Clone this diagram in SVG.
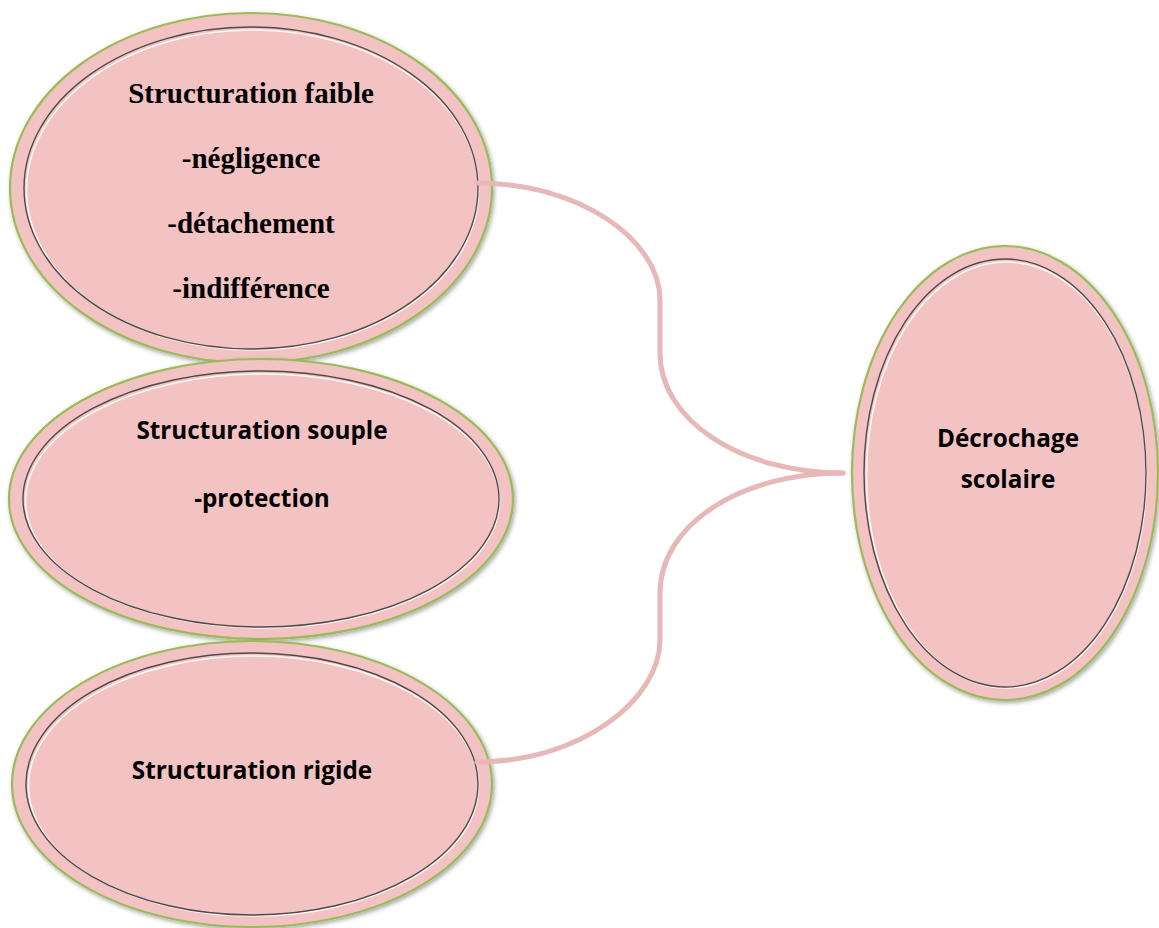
<svg xmlns="http://www.w3.org/2000/svg" width="1159" height="928" viewBox="0 0 1159 928">
  <defs>
    <filter id="sh" x="-10%" y="-10%" width="120%" height="120%">
      <feDropShadow dx="1.5" dy="2" stdDeviation="2" flood-color="#000" flood-opacity="0.35"/>
    </filter>
  </defs>
  <style>
    .outer { fill: #f3c3c3; stroke: #9bbb59; stroke-width: 2.2; filter: url(#sh); }
    .inner { fill: none; stroke: #4f4a4a; stroke-width: 1.4; }
    .hl { fill: none; stroke: #ffffff; stroke-width: 1.6; stroke-opacity: 0.85; }
    .serif { font-family: "Liberation Serif", "Times New Roman", serif; font-weight: bold; font-size: 29px; fill: #000; text-anchor: middle; }
    .sans { font-family: "Open Sans", "Liberation Sans", sans-serif; font-weight: bold; font-size: 24.3px; fill: #000; text-anchor: middle; }
    .conn { fill: none; stroke: #e6b8b7; stroke-width: 5; stroke-linecap: round; }
  </style>
  <rect width="1159" height="928" fill="#ffffff"/>

  <g id="node-faible">
    <ellipse class="outer" cx="251" cy="188" rx="241" ry="175"/>
    <ellipse class="hl" cx="252.5" cy="190" rx="226" ry="160"/>
    <ellipse class="inner" cx="251" cy="188" rx="227" ry="161"/>
    <text class="serif" x="251" y="103">Structuration faible</text>
    <text class="serif" x="251" y="168">-négligence</text>
    <text class="serif" x="251" y="233">-détachement</text>
    <text class="serif" x="251" y="298">-indifférence</text>
  </g>

  <g id="node-souple">
    <ellipse class="outer" cx="261" cy="499" rx="252" ry="140"/>
    <ellipse class="hl" cx="262.5" cy="501" rx="237" ry="127"/>
    <ellipse class="inner" cx="261" cy="499" rx="238" ry="128"/>
    <text class="sans" x="262" y="439">Structuration souple</text>
    <text class="sans" x="262" y="507">-protection</text>
  </g>

  <g id="node-rigide">
    <ellipse class="outer" cx="252" cy="784" rx="240" ry="143"/>
    <ellipse class="hl" cx="253.5" cy="786" rx="225" ry="130"/>
    <ellipse class="inner" cx="252" cy="784" rx="226" ry="131"/>
    <text class="sans" x="252" y="779">Structuration rigide</text>
  </g>

  <g id="node-decrochage">
    <ellipse class="outer" cx="1005" cy="473" rx="153" ry="227"/>
    <ellipse class="hl" cx="1006.5" cy="475" rx="140" ry="213"/>
    <ellipse class="inner" cx="1005" cy="473" rx="141" ry="214"/>
    <text class="sans" x="1008" y="447">Décrochage</text>
    <text class="sans" x="1008" y="488">scolaire</text>
  </g>

  <g id="connectors">
    <path class="conn" d="M477,183 C580,183 660,240 660,300 L660,353 C660,420 740,473 843,473"/>
    <path class="conn" d="M477,762 C580,762 660,700 660,640 L660,593 C660,525 740,473 843,473"/>
  </g>
</svg>
